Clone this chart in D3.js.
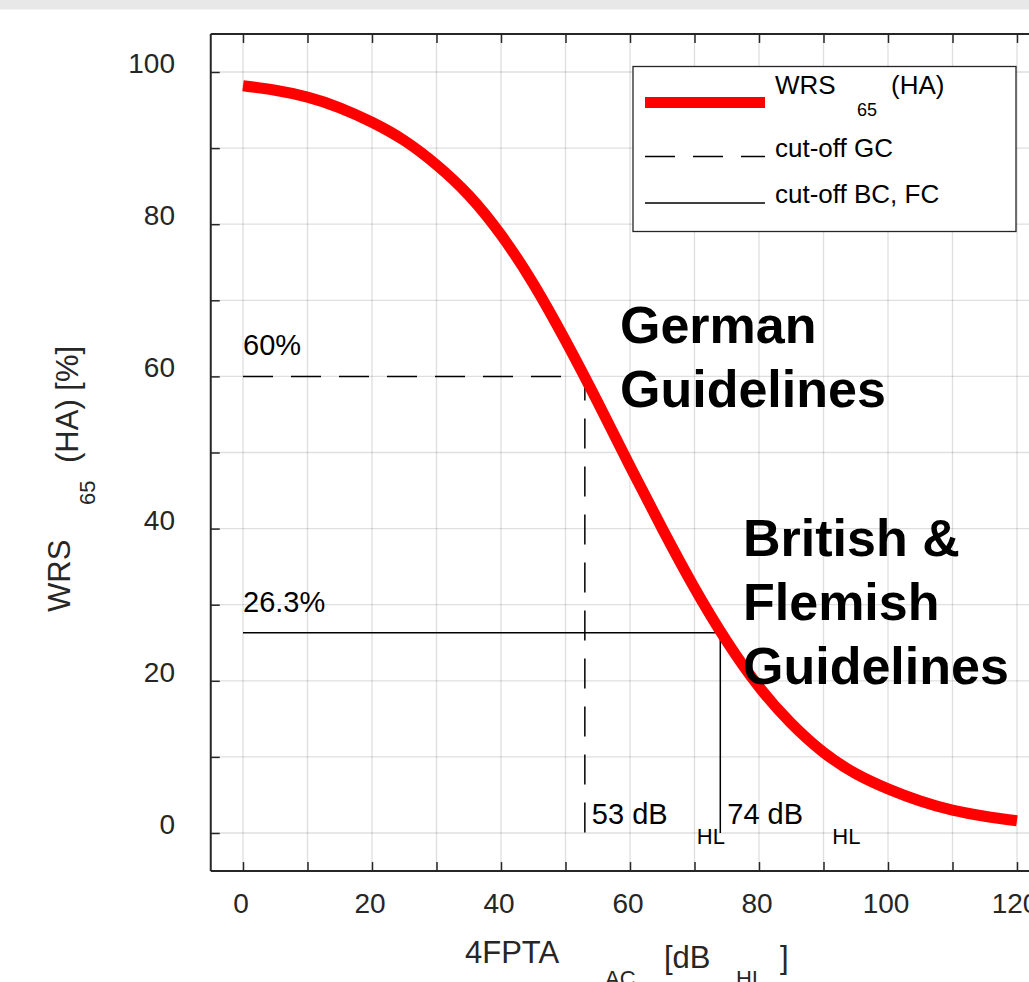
<!DOCTYPE html>
<html lang="en">
<head>
<meta charset="UTF-8">
<title>WRS65 (HA) vs 4FPTA</title>
<script src="https://d3js.org/d3.v7.min.js"></script>
<style>
  body { margin: 0; padding: 0; background: #fff; }
  svg { display: block; font-family: "Liberation Sans", Arial, sans-serif; }
  .grid line { stroke: #262626; stroke-opacity: 0.15; stroke-width: 1.3; }
  .tick-label { fill: #262626; font-size: 28px; }
  .note { fill: #000; }
  .guide { font-weight: bold; font-size: 52px; fill: #000; }
</style>
</head>
<body>
<svg width="1029" height="982"></svg>
<script>
// curve every 5 dB: hearing loss (dB HL) -> WRS65 with HA (%)
const hearingLoss = [0, 5, 10, 15, 20, 25, 30, 35, 40, 45, 50, 55, 60,
                     65, 70, 75, 80, 85, 90, 95, 100, 105, 110, 115, 120];
const wrsScore    = [98.2, 97.6, 96.7, 95.3, 93.4, 91.0, 87.8, 83.8, 78.6, 72.2, 64.7, 56.6, 48.2,
                     40.0, 32.2, 25.2, 19.2, 14.4, 10.6, 7.8, 5.8, 4.2, 3.0, 2.2, 1.6];

// cut-off points (German = dashed, British/Flemish = solid)
const cutoffDb     = [53, 74];
const cutoffScore  = [60, 26.3];
const cutoffDash   = ["30,18", null];
const cutoffPct    = ["60%", "26.3%"];
const cutoffDbText = ["53 dB", "74 dB"];

const xTickLabels = [0, 20, 40, 60, 80, 100, 120];
const yTickLabels = [0, 20, 40, 60, 80, 100];
const xMinorTicks = d3.range(0, 121, 10);
const yMinorTicks = d3.range(0, 101, 10);

const svg = d3.select("svg");

// grey strip at top of the figure window
svg.append("rect").attr("x", 0).attr("y", 0).attr("width", 1029).attr("height", 9.5).attr("fill", "#e8e8e8");

const x = d3.scaleLinear().domain([-5, 125]).range([210.75, 1049.25]);
const y = d3.scaleLinear().domain([-5, 105]).range([871.05, 33.95]);

const plotLeft = x(-5), plotRight = x(125), plotTop = y(105), plotBottom = y(-5);

// grid
const grid = svg.append("g").attr("class", "grid");
grid.selectAll(".gx").data(xMinorTicks).join("line")
  .attr("x1", d => x(d)).attr("x2", d => x(d)).attr("y1", plotTop).attr("y2", plotBottom);
grid.selectAll(".gy").data(yMinorTicks).join("line")
  .attr("y1", d => y(d)).attr("y2", d => y(d)).attr("x1", plotLeft).attr("x2", plotRight);

// axes (MATLAB style box with inward ticks)
const axisColor = "#262626";
const bottomAxis = svg.append("g").attr("transform", `translate(0,${plotBottom})`)
  .call(d3.axisBottom(x).tickValues(xMinorTicks).tickSize(-9).tickFormat(""));
const topAxis = svg.append("g").attr("transform", `translate(0,${plotTop})`)
  .call(d3.axisTop(x).tickValues(xMinorTicks).tickSize(-9).tickFormat(""));
const leftAxis = svg.append("g").attr("transform", `translate(${plotLeft},0)`)
  .call(d3.axisLeft(y).tickValues(yMinorTicks).tickSize(-9).tickFormat(""));
[bottomAxis, topAxis, leftAxis].forEach(g => {
  g.select(".domain").attr("stroke", axisColor).attr("stroke-width", 2);
  g.selectAll(".tick line").attr("stroke", axisColor).attr("stroke-width", 1.5);
});
bottomAxis.select(".domain").attr("d", `M${plotLeft},0H${plotRight}`);
topAxis.select(".domain").attr("d", `M${plotLeft},0H${plotRight}`);
leftAxis.select(".domain").attr("d", `M0,${plotTop}V${plotBottom}`);

// tick labels
svg.append("g").selectAll("text").data(xTickLabels).join("text")
  .attr("class", "tick-label")
  .attr("x", d => x(d) - 2).attr("y", plotBottom + 42)
  .attr("text-anchor", "middle").text(d => d);
svg.append("g").selectAll("text").data(yTickLabels).join("text")
  .attr("class", "tick-label")
  .attr("x", 175).attr("y", d => y(d) + 1)
  .attr("text-anchor", "end").text(d => d);

// cut-off lines
cutoffDb.forEach((db, i) => {
  const p = d3.path();
  p.moveTo(x(0), y(cutoffScore[i]));
  p.lineTo(x(db), y(cutoffScore[i]));
  p.lineTo(x(db), y(0));
  svg.append("path").attr("d", p.toString())
    .attr("fill", "none").attr("stroke", "#000").attr("stroke-width", 1.5)
    .attr("stroke-dasharray", cutoffDash[i]);
});

// WRS curve
const line = d3.line().x(d => x(d[0])).y(d => y(d[1])).curve(d3.curveNatural);
svg.append("path").datum(d3.zip(hearingLoss, wrsScore))
  .attr("d", line).attr("fill", "none").attr("stroke", "#ff0000").attr("stroke-width", 11);

// annotations
cutoffPct.forEach((t, i) => {
  svg.append("text").attr("class", "note").attr("font-size", 29)
    .attr("x", x(0)).attr("y", y(cutoffScore[i]) - 21).text(t);
});
cutoffDbText.forEach((t, i) => {
  const g = svg.append("g");
  g.append("text").attr("class", "note").attr("font-size", 29)
    .attr("x", x(cutoffDb[i]) + 7).attr("y", y(0) - 9).text(t);
  g.append("text").attr("class", "note").attr("font-size", 22)
    .attr("x", x(cutoffDb[i]) + 112).attr("y", y(0) + 11).text("HL");
});

const german = svg.append("text").attr("class", "guide");
german.append("tspan").attr("x", 620).attr("y", 343).text("German");
german.append("tspan").attr("x", 620).attr("y", 407).text("Guidelines");
const british = svg.append("text").attr("class", "guide");
british.append("tspan").attr("x", 743).attr("y", 556).text("British &");
british.append("tspan").attr("x", 743).attr("y", 620).text("Flemish");
british.append("tspan").attr("x", 743).attr("y", 684).text("Guidelines");

// axis labels
const labelColor = "#262626";
svg.append("text").attr("x", 465).attr("y", 963).attr("font-size", 31).attr("fill", labelColor).text("4FPTA");
svg.append("text").attr("x", 605).attr("y", 986).attr("font-size", 22).attr("fill", labelColor).text("AC");
svg.append("text").attr("x", 664).attr("y", 968).attr("font-size", 31).attr("fill", labelColor).text("[dB");
svg.append("text").attr("x", 736).attr("y", 986).attr("font-size", 22).attr("fill", labelColor).text("HL");
svg.append("text").attr("x", 780).attr("y", 968).attr("font-size", 31).attr("fill", labelColor).text("]");

svg.append("text").attr("transform", "translate(70,612) rotate(-90)")
  .attr("font-size", 31).attr("fill", labelColor).text("WRS");
svg.append("text").attr("transform", "translate(95,505) rotate(-90)")
  .attr("font-size", 22).attr("fill", labelColor).text("65");
svg.append("text").attr("transform", "translate(78,463) rotate(-90)")
  .attr("font-size", 31).attr("fill", labelColor).text("(HA) [%]");

// legend
const legend = svg.append("g");
legend.append("rect").attr("x", 633).attr("y", 66.5).attr("width", 383).attr("height", 165)
  .attr("fill", "#fff").attr("stroke", axisColor).attr("stroke-width", 1.3);
legend.append("line").attr("x1", 645).attr("x2", 765).attr("y1", 102.5).attr("y2", 102.5)
  .attr("stroke", "#ff0000").attr("stroke-width", 11);
legend.append("line").attr("x1", 645).attr("x2", 765).attr("y1", 156.5).attr("y2", 156.5)
  .attr("stroke", "#000").attr("stroke-width", 1.5).attr("stroke-dasharray", "30,18");
legend.append("line").attr("x1", 645).attr("x2", 765).attr("y1", 203).attr("y2", 203)
  .attr("stroke", "#000").attr("stroke-width", 1.5);
legend.append("text").attr("x", 775).attr("y", 94).attr("font-size", 26).text("WRS");
legend.append("text").attr("x", 857).attr("y", 116).attr("font-size", 18).text("65");
legend.append("text").attr("x", 891).attr("y", 94).attr("font-size", 26).text("(HA)");
legend.append("text").attr("x", 775).attr("y", 157).attr("font-size", 26).text("cut-off GC");
legend.append("text").attr("x", 775).attr("y", 203).attr("font-size", 26).text("cut-off BC, FC");
</script>
</body>
</html>
